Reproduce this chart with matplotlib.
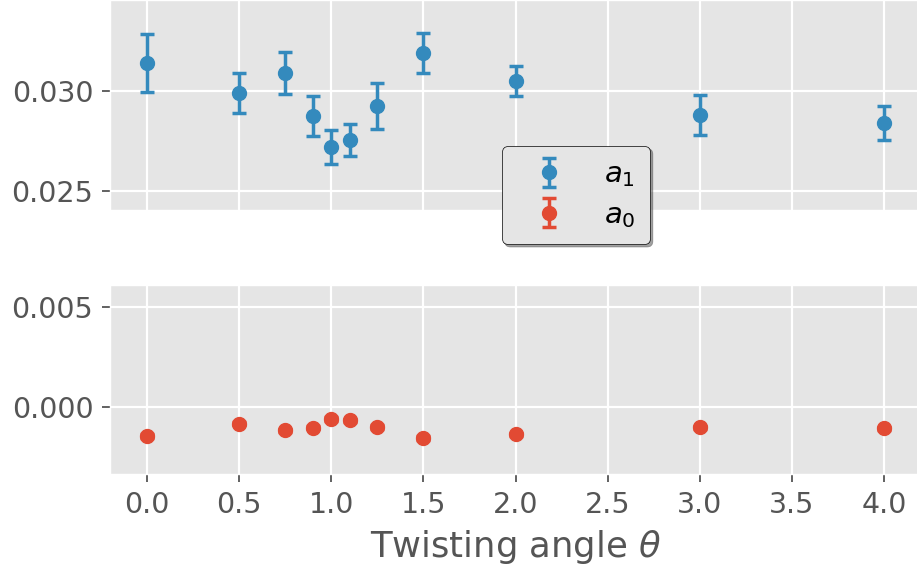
import matplotlib.pyplot as plt

plt.style.use('ggplot')

theta = [0.0, 0.5, 0.75, 0.9, 1.0, 1.1, 1.25, 1.5, 2.0, 3.0, 4.0]
a1 = [0.0314, 0.0299, 0.0309, 0.02875, 0.0272, 0.02755, 0.02925, 0.0319, 0.0305, 0.0288, 0.0284]
a1_err = [0.00145, 0.001, 0.00105, 0.001, 0.00085, 0.0008, 0.00115, 0.001, 0.00075, 0.001, 0.00087]
a0 = [-0.00145, -0.00083, -0.00117, -0.00103, -0.0006, -0.00067, -0.001, -0.00155, -0.00137, -0.00102, -0.00107]
a0_err = [0.00008] * len(theta)

fig = plt.figure(figsize=(9.17, 5.75), dpi=100)
ax_top = fig.add_axes([110 / 917, 365 / 575, 811 / 917, 210 / 575])
ax_bot = fig.add_axes([110 / 917, 101 / 575, 811 / 917, 189 / 575])

style = dict(fmt='o', markersize=10, capsize=5, elinewidth=2.5, capthick=2.5)
h1 = ax_top.errorbar(theta, a1, yerr=a1_err, color='#348ABD', label='$a_1$', **style)
ax_bot.errorbar(theta, a1, yerr=a1_err, color='#348ABD', **style)
h0 = ax_bot.errorbar(theta, a0, yerr=a0_err, color='#E24A33', label='$a_0$', **style)
ax_top.errorbar(theta, a0, yerr=a0_err, color='#E24A33', **style)

for ax in (ax_top, ax_bot):
    ax.set_xlim(-0.2, 4.2)
    ax.set_xticks([0.0, 0.5, 1.0, 1.5, 2.0, 2.5, 3.0, 3.5, 4.0])
    ax.tick_params(labelsize=20.5, length=6, width=1.3, pad=6)
    ax.grid(True, color='white', linewidth=1.6)

ax_top.set_ylim(0.02405, 0.03455)
ax_top.set_yticks([0.025, 0.030])
ax_top.set_yticklabels(['0.025', '0.030'])
ax_top.tick_params(axis='x', bottom=False, labelbottom=False)

ax_bot.set_ylim(-0.00335, 0.0061)
ax_bot.set_yticks([0.0, 0.005])
ax_bot.set_yticklabels(['0.000', '0.005'])
ax_bot.set_xticklabels(['0.0', '0.5', '1.0', '1.5', '2.0', '2.5', '3.0', '3.5', '4.0'])
ax_bot.set_xlabel(r'Twisting angle $\theta$', fontsize=25.5, color='#555555', labelpad=7)

leg = fig.legend([h1, h0], ['$a_1$', '$a_0$'], loc='center', bbox_to_anchor=(576 / 917, 1 - 195 / 575),
                 fontsize=21, shadow=True, frameon=True, edgecolor='black', facecolor='#E5E5E5',
                 framealpha=1.0, handlelength=2.2, borderpad=0.5, labelspacing=0.4)

fig.savefig('out.png', dpi=100)
